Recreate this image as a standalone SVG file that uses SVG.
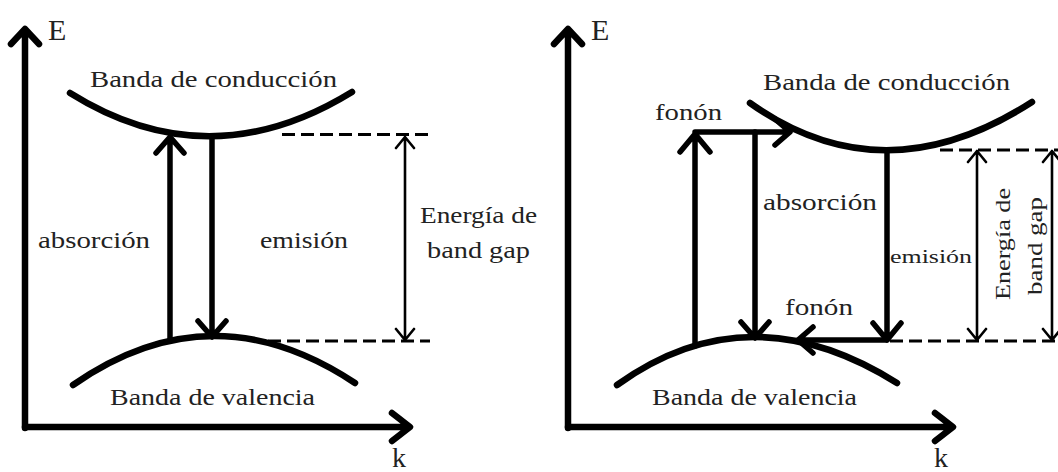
<svg xmlns="http://www.w3.org/2000/svg" width="1058" height="472" viewBox="0 0 1058 472" font-family="Liberation Serif, Times New Roman, Tinos, serif">
<style>
.bg{fill:#ffffff}
.ax{fill:none;stroke:#000;stroke-width:6.5;stroke-linecap:round;stroke-linejoin:round}
.band{fill:none;stroke:#000;stroke-width:6.5;stroke-linecap:round}
.tr{fill:none;stroke:#000;stroke-width:5.5;stroke-linecap:round;stroke-linejoin:round}
.gap{fill:none;stroke:#000;stroke-width:2.6;stroke-linecap:round;stroke-linejoin:round}
.dash{fill:none;stroke:#000;stroke-width:3;stroke-dasharray:13 6}
text{fill:#222}
</style>
<rect class="bg" x="0" y="0" width="1058" height="472"/>

<!-- LEFT PANEL -->
<g id="left-axes">
  <path class="ax" d="M25,428 V30 M11,44 L25,29 L39,44"/>
  <path class="ax" d="M25,427 H409 M392,413 L410,427 L392,441"/>
  <text x="48" y="40" font-size="30">E</text>
  <text x="392" y="467" font-size="28">k</text>
</g>
<g id="left-conduction">
  <path class="band" d="M70,93 Q209,180 352,92"/>
  <text x="90" y="87" font-size="23" textLength="247" lengthAdjust="spacingAndGlyphs">Banda de conducción</text>
</g>
<g id="left-valence">
  <path class="band" d="M73,385 Q212,288 355,383"/>
  <text x="110" y="405" font-size="23" textLength="205" lengthAdjust="spacingAndGlyphs">Banda de valencia</text>
</g>
<g id="left-labels">
  <text x="38" y="248" font-size="23" textLength="112" lengthAdjust="spacingAndGlyphs">absorción</text>
  <text x="260" y="248" font-size="23" textLength="88" lengthAdjust="spacingAndGlyphs">emisión</text>
  <text x="420" y="223" font-size="23" textLength="117" lengthAdjust="spacingAndGlyphs">Energía de</text>
  <text x="427" y="258" font-size="23" textLength="103" lengthAdjust="spacingAndGlyphs">band gap</text>
</g>

<!-- RIGHT PANEL -->
<g id="right-axes">
  <path class="ax" d="M568,428 V30 M554,44 L568,29 L582,44"/>
  <path class="ax" d="M568,427 H952 M935,413 L953,427 L935,441"/>
  <text x="591" y="40" font-size="30">E</text>
  <text x="934" y="467" font-size="28">k</text>
</g>
<g id="right-conduction">
  <path class="band" d="M750,103 Q883,198 1032,102"/>
  <text x="763" y="90" font-size="23" textLength="247" lengthAdjust="spacingAndGlyphs">Banda de conducción</text>
</g>
<g id="right-valence">
  <path class="band" d="M617,385 Q749,290 897,383"/>
  <text x="652" y="405" font-size="23" textLength="205" lengthAdjust="spacingAndGlyphs">Banda de valencia</text>
</g>
<g id="right-labels">
  <text x="655" y="120" font-size="23" textLength="67" lengthAdjust="spacingAndGlyphs">fonón</text>
  <text x="763" y="210" font-size="23" textLength="114" lengthAdjust="spacingAndGlyphs">absorción</text>
  <text x="890" y="263" font-size="19" textLength="82" lengthAdjust="spacingAndGlyphs">emisión</text>
  <text x="785" y="315" font-size="23" textLength="68" lengthAdjust="spacingAndGlyphs">fonón</text>
  <text transform="translate(1010,244) rotate(-90)" x="0" y="0" font-size="20" text-anchor="middle" textLength="112" lengthAdjust="spacingAndGlyphs">Energía de</text>
  <text transform="translate(1042,246) rotate(-90)" x="0" y="0" font-size="20" text-anchor="middle" textLength="98" lengthAdjust="spacingAndGlyphs">band gap</text>
</g>

<!-- CONNECTORS -->
<g id="connectors">
  <!-- left -->
  <path class="tr" d="M170,340 V138 M156,153 L170,137 L184,153"/>
  <path class="tr" d="M212,138 V336 M198,321 L212,337 L226,321"/>
  <path class="dash" d="M282,134.5 H430"/>
  <path class="dash" d="M268,341 H430"/>
  <path class="gap" d="M405,137 V340 M396,148 L405,137 L414,148 M396,329 L405,340 L414,329"/>
  <!-- right -->
  <path class="tr" d="M695,346 V132 H789 M680,152 L695,134 L710,152 M775,119 L790,132 L775,145"/>
  <path class="tr" d="M755,132 V337 M741,322 L755,338 L769,322"/>
  <path class="tr" d="M887,150 V339 M873,323 L887,340 L901,323"/>
  <path class="tr" d="M887,340 H799 M813,327 L798,340 L813,353"/>
  <path class="dash" d="M940,150 H1058"/>
  <path class="dash" d="M890,341 H1058"/>
  <path class="gap" d="M977,151 V340 M968,162 L977,151 L986,162 M968,329 L977,340 L986,329"/>
  <path class="gap" d="M1052,151 V340 M1043,162 L1052,151 L1061,162 M1043,329 L1052,340 L1061,329"/>
</g>
</svg>
